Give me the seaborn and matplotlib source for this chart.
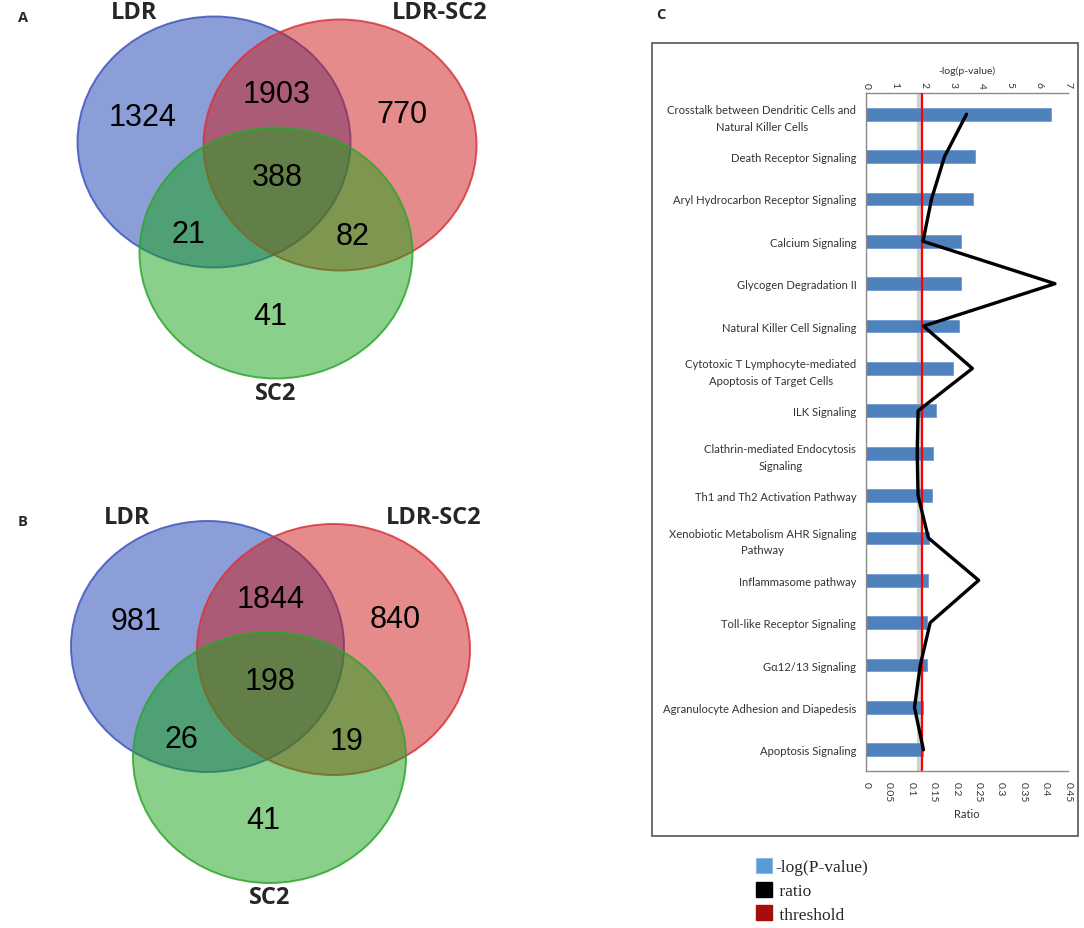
import numpy as np
import pandas as pd
import matplotlib
matplotlib.use("Agg")
import matplotlib.pyplot as plt
import matplotlib.transforms as mtransforms
from matplotlib.patches import Ellipse, Rectangle, Patch
import seaborn as sns

# ---------------- data ----------------
venn_sets = ["LDR", "LDR-SC2", "SC2"]
venn_a_counts = [1324, 1903, 770, 388, 21, 82, 41]   # LDR, LDR&LDR-SC2, LDR-SC2, all, LDR&SC2, LDR-SC2&SC2, SC2
venn_b_counts = [981, 1844, 840, 198, 26, 19, 41]

pathways = [
    "Crosstalk between Dendritic Cells and\nNatural Killer Cells",
    "Death Receptor Signaling",
    "Aryl Hydrocarbon Receptor Signaling",
    "Calcium Signaling",
    "Glycogen Degradation II",
    "Natural Killer Cell Signaling",
    "Cytotoxic T Lymphocyte-mediated\nApoptosis of Target Cells",
    "ILK Signaling",
    "Clathrin-mediated Endocytosis\nSignaling",
    "Th1 and Th2 Activation Pathway",
    "Xenobiotic Metabolism AHR Signaling\nPathway",
    "Inflammasome pathway",
    "Toll-like Receptor Signaling",
    "G\u03b112/13 Signaling",
    "Agranulocyte Adhesion and Diapedesis",
    "Apoptosis Signaling",
]
neg_log_p = [6.4, 3.77, 3.7, 3.3, 3.28, 3.24, 3.03, 2.44, 2.33, 2.3, 2.2, 2.16, 2.13, 2.1, 1.98, 1.98]
ratio = [0.224, 0.175, 0.146, 0.127, 0.421, 0.128, 0.237, 0.116, 0.114, 0.116, 0.139, 0.251, 0.143, 0.121, 0.108, 0.128]
threshold = 1.95
p_ticks = list(range(0, 8))
ratio_ticks = [0, 0.05, 0.1, 0.15, 0.2, 0.25, 0.3, 0.35, 0.4, 0.45]
ratio_tick_labels = ["0", "0.05", "0.1", "0.15", "0.2", "0.25", "0.3", "0.35", "0.4", "0.45"]
legend_labels = ["-log(P-value)", " ratio", " threshold"]

# ---------------- style ----------------
sns.set_style("white")
plt.rcParams["font.family"] = ["Lato", "DejaVu Sans"]

W, H = 1084, 929
fig = plt.figure(figsize=(W / 100, H / 100), dpi=100)

# ---------------- Venn panels (pixel coordinate axes) ----------------
axv = fig.add_axes([0, 0, 0.5, 1])
axv.set_xlim(0, W * 0.5)
axv.set_ylim(H, 0)
axv.axis("off")

fill_cols = ["#193FB1", "#CD1919", "#17A317"]
edge_cols = ["#3F55C0", "#D8333D", "#2FA52F"]
circle_off = [(0, 0), (126, 3), (62, 111)]
region_off = [(-71, -27), (63, -50), (188, -30), (63, 33), (-26, 90), (139, 92), (56, 172)]
label_off = [(-80, -130), (226, -130), (62, 251)]
semi = (273, 251)

def draw_venn(cx, cy, counts, letter):
    for (dx, dy), fc, ec in zip(circle_off, fill_cols, edge_cols):
        axv.add_patch(Ellipse((cx + dx, cy + dy), semi[0], semi[1],
                              facecolor=matplotlib.colors.to_rgba(fc, 0.5),
                              edgecolor=matplotlib.colors.to_rgba(ec, 0.85), lw=1.4))
    for (dx, dy), n in zip(region_off, counts):
        axv.text(cx + dx, cy + dy + 2, str(n), ha="center", va="center",
                 fontsize=22, family=["Liberation Sans", "DejaVu Sans"], color="black")
    for (dx, dy), name in zip(label_off, venn_sets):
        axv.text(cx + dx, cy + dy, name, ha="center", va="center",
                 fontsize=17, fontweight="bold", family=["Open Sans", "DejaVu Sans"])
    axv.text(23, cy - 125, letter, ha="center", va="center", fontsize=10.5,
             fontweight="bold", family=["Open Sans", "DejaVu Sans"])

draw_venn(214, 143, venn_a_counts, "A")
draw_venn(207.5, 647.5, venn_b_counts, "B")

# ---------------- Panel C ----------------
fig.add_artist(Rectangle((652 / W, 1 - 837 / H), (1078 - 652) / W, (837 - 44) / H,
                         transform=fig.transFigure, fill=False, ec="#555555", lw=1.2))
fig.text(661 / W, 1 - 15 / H, "C", ha="center", va="center", fontsize=10.5,
         fontweight="bold", family=["Open Sans", "DejaVu Sans"])

left, right, top, bottom = 866, 1068, 94, 772
ax = fig.add_axes([left / W, 1 - bottom / H, (right - left) / W, (bottom - top) / H])
ax2 = ax.twiny()

df = pd.DataFrame({"pathway": pathways, "neglogp": neg_log_p, "ratio": ratio,
                   "pos": np.arange(len(pathways))})

shadow = ax.axvline(threshold, color="#D2D2D2", lw=3.0, zorder=0.5)
shadow.set_transform(shadow.get_transform() +
                     mtransforms.ScaledTranslation(-2 / 72, 0, fig.dpi_scale_trans))

sns.barplot(data=df, x="neglogp", y="pathway", order=pathways, orient="h", ax=ax,
            color="#4F81BD", saturation=1, width=0.3, edgecolor="#6E9AD3", linewidth=0.6)

ax.axvline(threshold, color="#FF0000", lw=1.6, zorder=4)

sns.lineplot(data=df, x="ratio", y="pos", ax=ax2, sort=False, estimator=None,
             orient="y", color="black", lw=2.4)

n = len(pathways)
ax.set_ylim(n - 0.5, -0.5)
ax2.set_ylim(n - 0.5, -0.5)

# top axis: -log(p-value)
ax.xaxis.tick_top()
ax.xaxis.set_label_position("top")
ax.set_xlim(0, 7)
ax.set_xticks(p_ticks)
ax.set_xticklabels([str(t) for t in p_ticks], rotation=-90)
ax.set_xlabel("-log(p-value)", fontsize=7.5, color="#333333", labelpad=6)
ax.set_ylabel("")
ax.tick_params(axis="x", length=0, pad=4, labelsize=7.5, colors="#333333")
ax.tick_params(axis="y", length=0, pad=7, labelsize=8.1, colors="#333333")
for lbl in ax.get_yticklabels():
    lbl.set_multialignment("center")
    lbl.set_linespacing(1.6)

# bottom axis: ratio
ax2.xaxis.tick_bottom()
ax2.xaxis.set_label_position("bottom")
ax2.set_xlim(0, 0.45)
ax2.set_xticks(ratio_ticks)
ax2.set_xticklabels(ratio_tick_labels, rotation=-90)
ax2.set_xlabel("Ratio", fontsize=8, color="#333333", labelpad=5)
ax2.set_ylabel("")
ax2.tick_params(axis="x", length=0, pad=7, labelsize=7.5, colors="#333333")

for s in ["right", "bottom"]:
    ax.spines[s].set_visible(False)
for s in ["top", "left"]:
    ax.spines[s].set_color("#8A8A8A")
    ax.spines[s].set_linewidth(1)
for s in ["right", "top", "left"]:
    ax2.spines[s].set_visible(False)
ax2.spines["bottom"].set_color("#8A8A8A")
ax2.spines["bottom"].set_linewidth(1)

# legend
handles = [Patch(facecolor="#5B9BD5", edgecolor="#8DB8E6", lw=0.8),
           Patch(facecolor="black", edgecolor="black"),
           Patch(facecolor="#A50E0E", edgecolor="#A50E0E")]
fig.legend(handles=handles, labels=legend_labels, loc="upper left",
           bbox_to_anchor=(756 / W, 1 - 859 / H), frameon=False,
           prop={"family": ["Liberation Serif", "DejaVu Serif"], "size": 12.5},
           handlelength=0.95, handleheight=0.95, handletextpad=0.15,
           labelspacing=0.35, borderpad=0, borderaxespad=0)

fig.savefig("out.png", dpi=100)
